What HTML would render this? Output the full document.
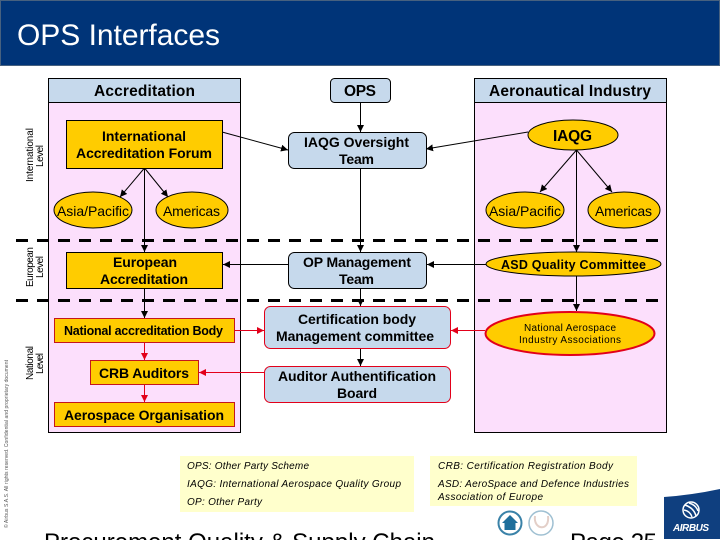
<!DOCTYPE html>
<html lang="en"><head><meta charset="utf-8"><title>OPS Interfaces</title>
<style>
html,body{margin:0;padding:0;background:#fff;width:720px;height:540px;overflow:hidden}
svg{display:block}
text{font-family:"Liberation Sans",sans-serif;fill:#000}
.l{font-size:15.5px;font-weight:bold}
.m{font-size:14px;font-weight:bold}
.s{font-size:12.5px;font-weight:bold}
.r{font-size:14px}
.v{font-size:10px}
.i{font-size:10px;font-style:italic}
.c{stroke:#000;stroke-width:1;fill:none}
.d{stroke:#e2001a;stroke-width:1;fill:none}
.t{stroke:#000;stroke-width:1;fill:#ffcc00}
.q{stroke:#c4161c;stroke-width:1;fill:#ffcc00}
.u{stroke:#000;stroke-width:1;fill:#c6d9ec}
.w{stroke:#e2001a;stroke-width:1;fill:#c6d9ec}
</style></head><body>
<svg width="720" height="540" viewBox="0 0 720 540" xmlns="http://www.w3.org/2000/svg">
<defs>
<marker id="ab" markerUnits="userSpaceOnUse" markerWidth="8" markerHeight="8" refX="7" refY="3.5" orient="auto"><path d="M0 0L7 3.5L0 7Z" fill="#000"/></marker>
<marker id="ar" markerUnits="userSpaceOnUse" markerWidth="8" markerHeight="8" refX="7" refY="3.5" orient="auto"><path d="M0 0L7 3.5L0 7Z" fill="#e2001a"/></marker>
</defs>

<rect x="0.5" y="0.5" width="719" height="65" fill="#003478" stroke="#47617f"/>
<text x="17" y="45" font-size="30" textLength="203" style="fill:#fff">OPS Interfaces</text>

<rect x="48.5" y="78.5" width="192" height="354" fill="#fcdffc" stroke="#000"/>
<rect x="48.5" y="78.5" width="192" height="24" fill="#c6d9ec" stroke="#000"/>
<rect x="474.5" y="78.5" width="192" height="354" fill="#fcdffc" stroke="#000"/>
<rect x="474.5" y="78.5" width="192" height="24" fill="#c6d9ec" stroke="#000"/>
<text class="l" x="94" y="96" textLength="101">Accreditation</text>
<text class="l" x="489" y="96" textLength="162">Aeronautical Industry</text>

<g stroke="#000" stroke-width="3" stroke-dasharray="12 9" fill="none">
<path d="M16 240.5H662"/>
<path d="M16 300.5H662"/>
</g>

<g class="c">
<path class="c" d="M144.5 168V252" marker-end="url(#ab)"/>
<path class="c" d="M144.5 168L120 197" marker-end="url(#ab)"/>
<path class="c" d="M144.5 168L168 197" marker-end="url(#ab)"/>
<path class="c" d="M144.5 288V318" marker-end="url(#ab)"/>
<path class="c" d="M360.5 102V132" marker-end="url(#ab)"/>
<path class="c" d="M360.5 168V252" marker-end="url(#ab)"/>
<path class="c" d="M360.5 288V306" marker-end="url(#ab)"/>
<path class="c" d="M360.5 348V366" marker-end="url(#ab)"/>
<path class="c" d="M576.5 150V252" marker-end="url(#ab)"/>
<path class="c" d="M576.5 150L540 192" marker-end="url(#ab)"/>
<path class="c" d="M576.5 150L612 192" marker-end="url(#ab)"/>
<path class="c" d="M576.5 276V311" marker-end="url(#ab)"/>
<path class="c" d="M222 132L288 150" marker-end="url(#ab)"/>
<path class="c" d="M528 132L426 149" marker-end="url(#ab)"/>
<path class="c" d="M288 264.5H223" marker-end="url(#ab)"/>
<path class="c" d="M486 264.5H427" marker-end="url(#ab)"/>
<path class="d" d="M144.5 342V360" marker-end="url(#ar)"/>
<path class="d" d="M144.5 384V402" marker-end="url(#ar)"/>
<path class="d" d="M234 330.5H264" marker-end="url(#ar)"/>
<path class="d" d="M485 330.5H451" marker-end="url(#ar)"/>
<path class="d" d="M264 372.5H199" marker-end="url(#ar)"/>
</g>

<rect class="u" x="330.5" y="78.5" width="60" height="24" rx="4"/>
<text class="l" x="344" y="96" textLength="32">OPS</text>

<rect class="u" x="288.5" y="132.5" width="138" height="36" rx="6"/>
<text class="m" x="304" y="147" textLength="105">IAQG Oversight</text>
<text class="m" x="339" y="164" textLength="35">Team</text>

<rect class="u" x="288.5" y="252.5" width="138" height="36" rx="6"/>
<text class="m" x="303" y="267" textLength="108">OP Management</text>
<text class="m" x="339" y="284" textLength="35">Team</text>

<rect class="w" x="264.5" y="306.5" width="186" height="42" rx="6"/>
<text class="m" x="298" y="324" textLength="118">Certification body</text>
<text class="m" x="276" y="341" textLength="158">Management committee</text>

<rect class="w" x="264.5" y="366.5" width="186" height="36" rx="6"/>
<text class="m" x="278" y="381" textLength="158">Auditor Authentification</text>
<text class="m" x="337" y="398" textLength="40">Board</text>

<rect class="t" x="66.5" y="120.5" width="156" height="48"/>
<text class="m" x="102" y="141" textLength="84">International</text>
<text class="m" x="76" y="158" textLength="136">Accreditation Forum</text>

<ellipse class="t" cx="93" cy="210" rx="39" ry="18"/>
<text class="r" x="57" y="216" textLength="72">Asia/Pacific</text>
<ellipse class="t" cx="192" cy="210" rx="36" ry="18"/>
<text class="r" x="163" y="216" textLength="57">Americas</text>

<rect class="t" x="66.5" y="252.5" width="156" height="36"/>
<text class="m" x="113" y="267" textLength="64">European</text>
<text class="m" x="100" y="284" textLength="88">Accreditation</text>

<rect class="q" x="54.5" y="318.5" width="180" height="24"/>
<text class="s" x="64" y="335" textLength="159">National accreditation Body</text>
<rect class="q" x="90.5" y="360.5" width="108" height="24"/>
<text class="m" x="99" y="378" textLength="90">CRB Auditors</text>
<rect class="q" x="54.5" y="402.5" width="180" height="24"/>
<text class="m" x="64" y="420" textLength="160">Aerospace Organisation</text>

<ellipse class="t" cx="573" cy="135" rx="45" ry="15"/>
<text class="l" x="553" y="141" textLength="39">IAQG</text>
<ellipse class="t" cx="525" cy="210" rx="39" ry="18"/>
<text class="r" x="489" y="216" textLength="72">Asia/Pacific</text>
<ellipse class="t" cx="624" cy="210" rx="36" ry="18"/>
<text class="r" x="595" y="216" textLength="57">Americas</text>
<ellipse class="t" cx="573.5" cy="264" rx="87.5" ry="12"/>
<text class="s" x="501" y="269" textLength="145">ASD Quality Committee</text>
<ellipse cx="570" cy="333.5" rx="84.5" ry="21.5" fill="#ffcc00" stroke="#e2001a" stroke-width="2"/>
<text x="524" y="331" font-size="10" textLength="92">National Aerospace</text>
<text x="519" y="343" font-size="10" textLength="102">Industry Associations</text>

<text class="v" transform="translate(33 182) rotate(-90)" textLength="54">International</text>
<text class="v" transform="translate(43 167) rotate(-90)" textLength="22">Level</text>
<text class="v" transform="translate(33 287) rotate(-90)" textLength="40">European</text>
<text class="v" transform="translate(43 278) rotate(-90)" textLength="22">Level</text>
<text class="v" transform="translate(33 380) rotate(-90)" textLength="34">National</text>
<text class="v" transform="translate(43 374) rotate(-90)" textLength="21">Level</text>
<text transform="translate(8 528) rotate(-90)" font-size="5" textLength="168" style="fill:#555">© Airbus S.A.S. All rights reserved. Confidential and proprietary document</text>

<rect x="180" y="456" width="234" height="56" fill="#ffffcc"/>
<text class="i" x="187" y="469" textLength="122">OPS: Other Party Scheme</text>
<text class="i" x="187" y="487" textLength="214">IAQG: International Aerospace Quality Group</text>
<text class="i" x="187" y="505" textLength="75">OP: Other Party</text>

<rect x="430" y="456" width="207" height="50" fill="#ffffcc"/>
<text class="i" x="438" y="469" textLength="175">CRB: Certification Registration Body</text>
<text class="i" x="438" y="487" textLength="191">ASD: AeroSpace and Defence Industries</text>
<text class="i" x="438" y="500" textLength="105">Association of Europe</text>

<text x="44" y="550" font-size="24" textLength="391">Procurement Quality &amp; Supply Chain</text>
<text x="570" y="550" font-size="24" textLength="87">Page 25</text>

<circle cx="510" cy="523" r="11.5" fill="#fff" stroke="#3a82a8" stroke-width="2"/>
<path d="M510 515L518 523H515.5V530H504.5V523H502Z" fill="#1f6f9c"/>
<circle cx="541" cy="523" r="12" fill="#fff" stroke="#9fc0d2" stroke-width="1.5"/>
<path d="M535 516C533 530 550 532 548 516" fill="none" stroke="#e3cfc8" stroke-width="2"/>

<path d="M664 497Q692 495 720 489V539H664Z" fill="#0f3f7f"/>
<g fill="none" stroke="#fff" stroke-width="1.5">
<circle cx="691" cy="510" r="8"/>
<path d="M685 505Q694 508 696 516M684 510Q690 511 692 517M689 503Q696 505 698 511"/>
</g>
<text x="673" y="531" font-size="10" font-weight="bold" font-style="italic" textLength="36" style="fill:#fff">AIRBUS</text>
</svg>
</body></html>
